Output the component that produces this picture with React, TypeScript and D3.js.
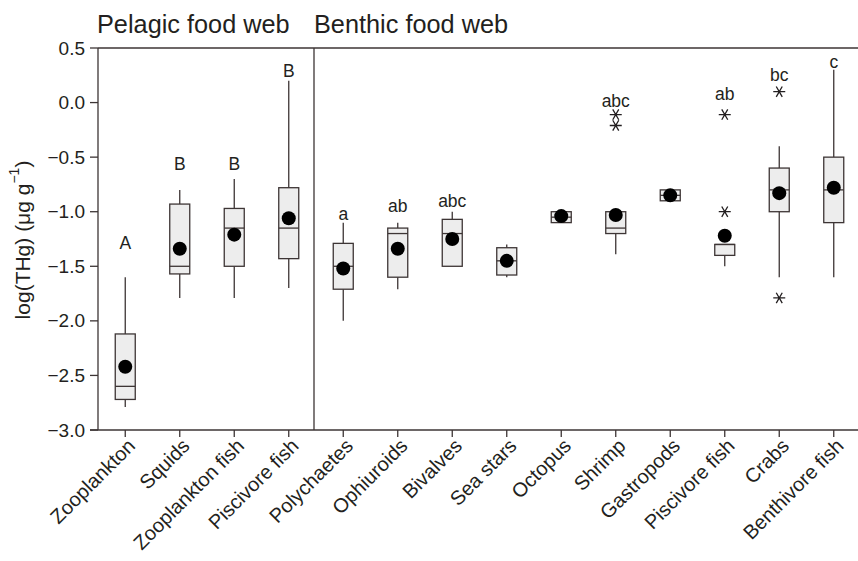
import { useMemo } from "react";
import * as d3 from "d3";

const categories = [
  "Zooplankton",
  "Squids",
  "Zooplankton fish",
  "Piscivore fish",
  "Polychaetes",
  "Ophiuroids",
  "Bivalves",
  "Sea stars",
  "Octopus",
  "Shrimp",
  "Gastropods",
  "Piscivore fish ",
  "Crabs",
  "Benthivore fish",
];

// box statistics in log(THg)
const whiskerLow = [-2.79, -1.79, -1.79, -1.7, -2.0, -1.71, -1.5, -1.6, -1.1, -1.39, -0.9, -1.5, -1.6, -1.6];
const q1 = [-2.72, -1.57, -1.5, -1.43, -1.71, -1.6, -1.5, -1.58, -1.1, -1.2, -0.9, -1.4, -1.0, -1.1];
const medians = [-2.6, -1.5, -1.15, -1.15, -1.5, -1.2, -1.2, -1.45, -1.05, -1.15, -0.85, -1.3, -0.8, -0.8];
const q3 = [-2.12, -0.93, -0.97, -0.78, -1.29, -1.15, -1.07, -1.33, -1.0, -1.0, -0.8, -1.3, -0.6, -0.5];
const whiskerHigh = [-1.6, -0.8, -0.7, 0.2, -1.1, -1.1, -1.0, -1.3, -1.0, -1.0, -0.8, -1.3, -0.4, 0.3];
const means = [-2.42, -1.34, -1.21, -1.06, -1.52, -1.34, -1.25, -1.45, -1.04, -1.03, -0.85, -1.22, -0.83, -0.78];
const outliers: number[][] = [[], [], [], [], [], [], [], [], [], [-0.11, -0.21], [], [-0.11, -1.0], [0.1, -1.79], []];

// significance letters and the value they sit at
const letters = ["A", "B", "B", "B", "a", "ab", "abc", "", "", "abc", "", "ab", "bc", "c"];
const letterAt = [-1.29, -0.56, -0.56, 0.29, -1.02, -0.95, -0.9, 0, 0, 0.01, 0, 0.08, 0.25, 0.37];

const yTickValues = [0.5, 0.0, -0.5, -1.0, -1.5, -2.0, -2.5, -3.0];
const groupTitles = ["Pelagic food web", "Benthic food web"];
const pelagicCount = 4;

const width = 858;
const height = 561;
const margin = { top: 48, right: -3, bottom: 132, left: 98 };
const ink = "#3d3535";
const textInk = "#231f20";
const font = "Arial, 'Liberation Sans', Helvetica, sans-serif";

function asterisk(x: number, y: number, r: number) {
  const path = d3.path();
  [0, 60, 120].forEach((deg) => {
    const a = (deg * Math.PI) / 180;
    path.moveTo(x - r * Math.cos(a), y - r * Math.sin(a));
    path.lineTo(x + r * Math.cos(a), y + r * Math.sin(a));
  });
  return path.toString();
}

export default function App() {
  const xScale = useMemo(
    () =>
      d3
        .scaleBand()
        .domain(categories)
        .range([margin.left, width - margin.right])
        .paddingInner(0)
        .paddingOuter(0),
    []
  );
  const yScale = useMemo(
    () => d3.scaleLinear().domain([-3, 0.5]).range([height - margin.bottom + 1, margin.top]),
    []
  );

  const bottom = yScale(-3);
  const top = yScale(0.5);
  const right = width - margin.right;
  const boxW = 20;
  const cx = (i: number) => (xScale(categories[i]) ?? 0) + xScale.bandwidth() / 2;
  const dividerLine = (xScale(categories[pelagicCount]) ?? 0) - 2;

  return (
    <svg
      width={width}
      height={height}
      style={{ position: "absolute", left: 0, top: 0, fontFamily: font }}
    >
      <rect width={width} height={height} fill="#fff" />

      {/* group titles */}
      <text x={margin.left - 1} y={33} fontSize={25.3} fill={textInk}>
        {groupTitles[0]}
      </text>
      <text x={dividerLine} y={33} fontSize={25.3} fill={textInk}>
        {groupTitles[1]}
      </text>

      {/* frame */}
      <line x1={margin.left} y1={top} x2={right} y2={top} stroke={ink} strokeWidth={1.3} />
      <line x1={margin.left} y1={top} x2={margin.left} y2={bottom} stroke={ink} strokeWidth={1.3} />
      <line x1={margin.left - 8} y1={bottom} x2={right} y2={bottom} stroke={ink} strokeWidth={1.3} />
      <line x1={dividerLine} y1={top} x2={dividerLine} y2={bottom} stroke={ink} strokeWidth={1.3} />

      {/* y ticks */}
      {yTickValues.map((v) => (
        <g key={v}>
          <line x1={margin.left - 8} x2={margin.left} y1={yScale(v)} y2={yScale(v)} stroke={ink} strokeWidth={1.3} />
          <text
            x={margin.left - 13}
            y={yScale(v)}
            textAnchor="end"
            dominantBaseline="central"
            fontSize={19}
            fill={textInk}
          >
            {v < 0 ? "\u2212" + Math.abs(v).toFixed(1) : v.toFixed(1)}
          </text>
        </g>
      ))}
      <text
        transform={`translate(22, 240) rotate(-90)`}
        textAnchor="middle"
        dominantBaseline="central"
        fontSize={21}
        fill={textInk}
      >
        log(THg) (μg g<tspan baselineShift="super" fontSize={14}>−1</tspan>)
      </text>

      {/* x ticks */}
      {categories.map((c, i) => (
        <g key={c}>
          <line x1={cx(i)} x2={cx(i)} y1={bottom} y2={bottom + 7} stroke={ink} strokeWidth={1.3} />
          <text
            transform={`translate(${cx(i) + 1}, ${bottom + 7}) rotate(-45)`}
            textAnchor="end"
            dominantBaseline="hanging"
            fontSize={20}
            fill={textInk}
          >
            {c.trim()}
          </text>
        </g>
      ))}

      {/* boxes */}
      {categories.map((c, i) => {
        const x = cx(i);
        return (
          <g key={`box-${c}`}>
            <line x1={x} x2={x} y1={yScale(whiskerHigh[i])} y2={yScale(q3[i])} stroke={ink} strokeWidth={1.3} />
            <line x1={x} x2={x} y1={yScale(q1[i])} y2={yScale(whiskerLow[i])} stroke={ink} strokeWidth={1.3} />
            <rect
              x={x - boxW / 2}
              y={yScale(q3[i])}
              width={boxW}
              height={yScale(q1[i]) - yScale(q3[i])}
              fill="#ededed"
              stroke={ink}
              strokeWidth={1.3}
            />
            <line
              x1={x - boxW / 2}
              x2={x + boxW / 2}
              y1={yScale(medians[i])}
              y2={yScale(medians[i])}
              stroke={ink}
              strokeWidth={1.3}
            />
            {outliers[i].map((o, j) => (
              <path key={j} d={asterisk(x, yScale(o), 6)} stroke={textInk} strokeWidth={1.3} fill="none" />
            ))}
            <circle cx={x} cy={yScale(means[i])} r={7} fill="#000" />
            {letters[i] && (
              <text
                x={x}
                y={yScale(letterAt[i])}
                textAnchor="middle"
                dominantBaseline="central"
                fontSize={17.5}
                fill={textInk}
              >
                {letters[i]}
              </text>
            )}
          </g>
        );
      })}
    </svg>
  );
}
